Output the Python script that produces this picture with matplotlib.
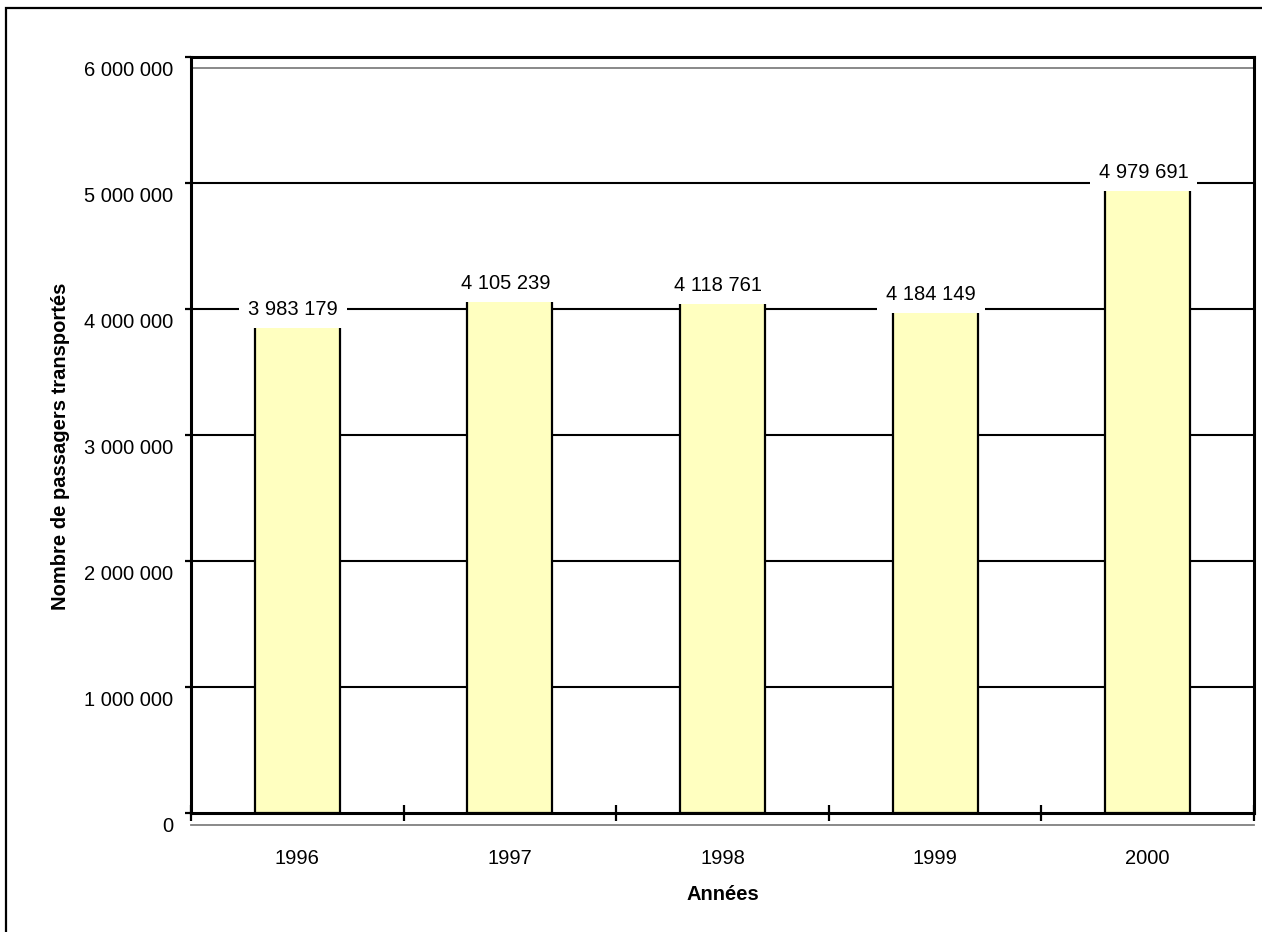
import matplotlib.pyplot as plt
import matplotlib.transforms as mtransforms
from matplotlib.patches import Rectangle
from matplotlib.ticker import FixedLocator, FuncFormatter

plt.rcParams['font.family'] = ['Liberation Sans', 'DejaVu Sans']

# data
years = ['1996', '1997', '1998', '1999', '2000']
passengers = [3983179, 4105239, 4118761, 4184149, 4979691]
y_ticks = [0, 1000000, 2000000, 3000000, 4000000, 5000000, 6000000]

# label shift above bar top, in points (as in the original export)
label_shift = [1.5, 8.6, 6.5, -6.5, 9.4]

def spaced(v):
    return f"{int(v):,}".replace(",", " ")

fig = plt.figure(figsize=(12.62, 9.32), dpi=100)
ax = fig.add_axes([191 / 1262, 1 - 813 / 932, 1063 / 1262, 756 / 932])

# outer frame of the chart area
fig.patches.append(Rectangle((6 / 1262, -0.2), 1.2, 1.2 - 8 / 932,
                             transform=fig.transFigure, fill=False,
                             edgecolor='black', linewidth=1.6))

xs = [i + 0.5 for i in range(len(years))]
ax.bar(xs, passengers, width=0.4, color='#FFFFC0', edgecolor='black',
       linewidth=1.6, zorder=3)

ax.set_xlim(0, len(years))
ax.set_ylim(0, 6000000)

# horizontal grid
for t in y_ticks[1:-1]:
    ax.axhline(t, color='black', linewidth=1.5, zorder=1)

# back wall / floor lines (3D look)
ax.plot([0, 1], [1 - 11 / 756, 1 - 11 / 756], transform=ax.transAxes,
        color='#808080', linewidth=1.3, zorder=1, clip_on=False)
ax.plot([0, 1], [-12 / 756, -12 / 756], transform=ax.transAxes,
        color='#808080', linewidth=1.3, zorder=1, clip_on=False)

for s in ax.spines.values():
    s.set_linewidth(2.2)

# y axis
ax.yaxis.set_major_locator(FixedLocator(y_ticks))
ax.yaxis.set_major_formatter(FuncFormatter(lambda v, p: spaced(v)))
ax.tick_params(axis='y', direction='out', length=4.5, width=1.6,
               labelsize=14.5, pad=8.5)
shift = mtransforms.ScaledTranslation(0, -12 / 100, fig.dpi_scale_trans)
for lab in ax.get_yticklabels():
    lab.set_transform(lab.get_transform() + shift)

# x axis: tick marks between categories, labels at centres
ax.xaxis.set_major_locator(FixedLocator(range(len(years) + 1)))
ax.xaxis.set_major_formatter(FuncFormatter(lambda v, p: ''))
ax.set_xticks(xs, years, minor=True)
ax.tick_params(axis='x', which='major', direction='inout', length=11,
               width=1.6)
ax.tick_params(axis='x', which='minor', length=0, labelsize=14.5, pad=26)

ax.set_xlabel('Années', fontsize=14.5, fontweight='bold', labelpad=12.5)
fig.text(61 / 1262, 1 - 446 / 932, 'Nombre de passagers transportés',
         rotation=90, ha='center', va='center', fontsize=14.5,
         fontweight='bold')

# value labels with white boxes covering the bar tops
for x, v, dy in zip(xs, passengers, label_shift):
    ax.annotate(spaced(v), (x, v), xytext=(-3, dy), textcoords='offset points',
                ha='center', va='center', fontsize=14.5, zorder=5,
                bbox=dict(boxstyle='square,pad=0.45', facecolor='white',
                          edgecolor='none'))

fig.savefig('out.png', dpi=100)
